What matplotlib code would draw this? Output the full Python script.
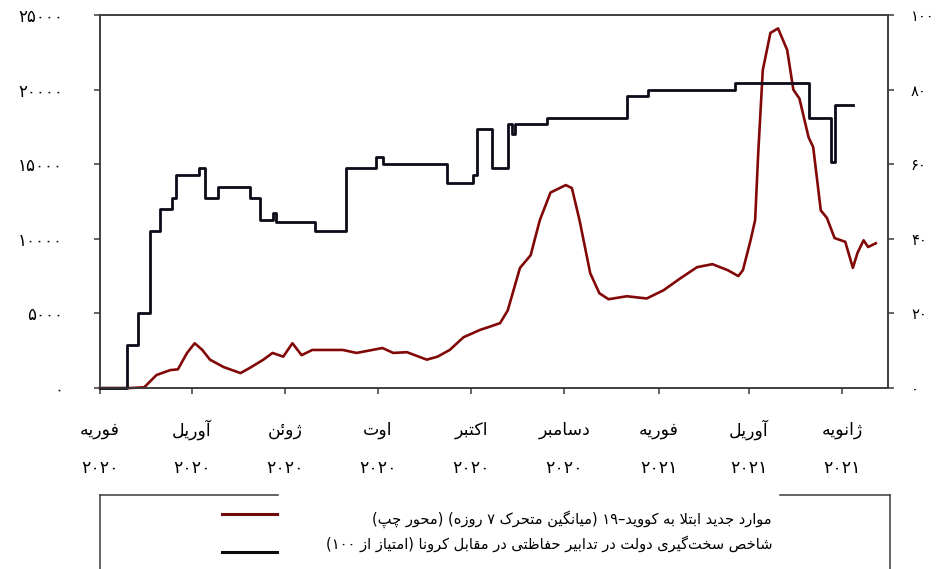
import re
import pandas as pd
import matplotlib.pyplot as plt
from matplotlib.lines import Line2D

# --- data ---
start = pd.Timestamp('2020-02-01')

# new covid-19 cases, 7-day moving average (left axis)
cases_days = [0, 20, 29, 37, 46, 51, 57, 62, 67, 72, 81, 92, 98, 107, 113, 120, 126, 132, 139, 159,
              168, 185, 192, 201, 214, 221, 229, 238, 249, 255, 262, 267, 275, 282, 288, 295, 305, 309,
              314, 321, 327, 333, 345, 358, 369, 380, 391, 401, 411, 418, 421, 426, 429, 431, 434, 439,
              444, 450, 454, 458, 464, 467, 472, 476, 481, 488, 493, 496, 500, 503, 508]
cases = [0, 0, 50, 870, 1200, 1250, 2350, 3000, 2550, 1900, 1400, 1000, 1340, 1900, 2350, 2100, 3000,
         2200, 2550, 2550, 2350, 2680, 2350, 2400, 1900, 2100, 2550, 3400, 3900, 4100, 4350, 5200, 8050,
         8900, 11250, 13100, 13600, 13400, 11250, 7700, 6350, 5950, 6150, 6000, 6550, 7350, 8100, 8300,
         7900, 7500, 7900, 9900, 11250, 15700, 21300, 23800, 24100, 22650, 20000, 19400, 16800, 16150,
         11900, 11400, 10050, 9800, 8050, 9050, 9900, 9450, 9700]

# government stringency index (right axis), value changes
si_days = [0, 18, 25, 33, 39, 47, 50, 65, 69, 77, 98, 105, 113, 115, 141, 161, 181, 185, 227, 244,
           247, 257, 267, 270, 272, 293, 345, 359, 416, 464, 479, 481, 493]
si = [0, 11.5, 20, 42, 48, 51, 57, 59, 51, 54, 51, 45, 47, 44.5, 42, 59, 62, 60, 55, 57, 69.4, 59,
      70.8, 68, 70.8, 72.4, 78.3, 80, 81.8, 72.4, 60.6, 76, 76]

tick_dates = ['2020-02-01', '2020-04-01', '2020-06-01', '2020-08-01', '2020-10-01',
              '2020-12-01', '2021-02-01', '2021-04-01', '2021-06-01']
months = ['فوریه', 'آوریل', 'ژوئن', 'اوت', 'اکتبر', 'دسامبر', 'فوریه', 'آوریل', 'ژانویه']
years = ['۲۰۲۰'] * 6 + ['۲۰۲۱'] * 3

legend_cases = 'موارد جدید ابتلا به کووید–۱۹ (میانگین متحرک ۷ روزه) (محور چپ)'
legend_si = 'شاخص سخت\u200cگیری دولت در تدابیر حفاظتی در مقابل کرونا (امتیاز از ۱۰۰)'

# --- minimal persian shaping (matplotlib has no complex text layout) ---
FORMS = {
    'آ': ('\uFE81', '\uFE82'), 'ا': ('\uFE8D', '\uFE8E'),
    'ب': ('\uFE8F', '\uFE90', '\uFE91', '\uFE92'), 'پ': ('\uFB56', '\uFB57', '\uFB58', '\uFB59'),
    'ت': ('\uFE95', '\uFE96', '\uFE97', '\uFE98'), 'ث': ('\uFE99', '\uFE9A', '\uFE9B', '\uFE9C'),
    'ج': ('\uFE9D', '\uFE9E', '\uFE9F', '\uFEA0'), 'چ': ('\uFB7A', '\uFB7B', '\uFB7C', '\uFB7D'),
    'ح': ('\uFEA1', '\uFEA2', '\uFEA3', '\uFEA4'), 'خ': ('\uFEA5', '\uFEA6', '\uFEA7', '\uFEA8'),
    'د': ('\uFEA9', '\uFEAA'), 'ذ': ('\uFEAB', '\uFEAC'), 'ر': ('\uFEAD', '\uFEAE'),
    'ز': ('\uFEAF', '\uFEB0'), 'ژ': ('\uFB8A', '\uFB8B'),
    'س': ('\uFEB1', '\uFEB2', '\uFEB3', '\uFEB4'), 'ش': ('\uFEB5', '\uFEB6', '\uFEB7', '\uFEB8'),
    'ص': ('\uFEB9', '\uFEBA', '\uFEBB', '\uFEBC'), 'ط': ('\uFEC1', '\uFEC2', '\uFEC3', '\uFEC4'),
    'ظ': ('\uFEC5', '\uFEC6', '\uFEC7', '\uFEC8'), 'ع': ('\uFEC9', '\uFECA', '\uFECB', '\uFECC'),
    'ف': ('\uFED1', '\uFED2', '\uFED3', '\uFED4'), 'ق': ('\uFED5', '\uFED6', '\uFED7', '\uFED8'),
    'ک': ('\uFB8E', '\uFB8F', '\uFB90', '\uFB91'), 'گ': ('\uFB92', '\uFB93', '\uFB94', '\uFB95'),
    'ل': ('\uFEDD', '\uFEDE', '\uFEDF', '\uFEE0'), 'م': ('\uFEE1', '\uFEE2', '\uFEE3', '\uFEE4'),
    'ن': ('\uFEE5', '\uFEE6', '\uFEE7', '\uFEE8'), 'ه': ('\uFEE9', '\uFEEA', '\uFEEB', '\uFEEC'),
    'و': ('\uFEED', '\uFEEE'), 'ی': ('\uFBFC', '\uFBFD', '\uFBFE', '\uFBFF'),
    'ئ': ('\uFE89', '\uFE8A', '\uFE8B', '\uFE8C'),
}
LAM_ALEF = {'ا': ('\uFEFB', '\uFEFC'), 'آ': ('\uFEF5', '\uFEF6')}
DIGITS = '0123456789۰۱۲۳۴۵۶۷۸۹'
MIRROR = {'(': ')', ')': '('}


def shape(s):
    out = []
    i = 0
    while i < len(s):
        c = s[i]
        if c not in FORMS:
            out.append(c)
            i += 1
            continue
        prev = s[i - 1] if i > 0 else None
        joins_prev = prev in FORMS and len(FORMS[prev]) == 4
        if c == 'ل' and i + 1 < len(s) and s[i + 1] in LAM_ALEF:
            lig = LAM_ALEF[s[i + 1]]
            out.append(lig[1] if joins_prev else lig[0])
            i += 2
            continue
        nxt = s[i + 1] if i + 1 < len(s) else None
        f = FORMS[c]
        joins_next = len(f) == 4 and nxt in FORMS
        if joins_prev and joins_next:
            out.append(f[3])
        elif joins_prev:
            out.append(f[1])
        elif joins_next:
            out.append(f[2])
        else:
            out.append(f[0])
        i += 1
    return ''.join(out).replace('\u200c', '')


def rtl(s):
    s = shape(s)
    runs = re.findall('[' + DIGITS + ']+|[^' + DIGITS + ']+', s)
    vis = []
    for r in reversed(runs):
        if r[0] in DIGITS:
            vis.append(r)
        else:
            vis.append(''.join(MIRROR.get(ch, ch) for ch in reversed(r)))
    return ''.join(vis)


def fa_num(n):
    return str(n).translate(str.maketrans('0123456789', '۰۱۲۳۴۵۶۷۸۹'))


# --- plot ---
plt.rcParams['font.family'] = ['DejaVu Sans']
W, H = 949, 569
fig = plt.figure(figsize=(W / 100, H / 100), dpi=100)
ax = fig.add_axes([100 / W, 1 - 388 / H, 788 / W, 373 / H])
ax2 = ax.twinx()

dates_cases = start + pd.to_timedelta(cases_days, unit='D')
dates_si = start + pd.to_timedelta(si_days, unit='D')

ax.plot(dates_cases, cases, color='#820808', lw=1.9, clip_on=False)
ax2.plot(dates_si, si, color='#0B0B1A', lw=2.0, drawstyle='steps-post', clip_on=False)

ax.set_xlim(pd.Timestamp('2020-02-01'), pd.Timestamp('2021-07-01'))
ax.set_ylim(0, 25000)
ax2.set_ylim(0, 100)

spine_col = '#3a3a3a'
for a in (ax, ax2):
    for sp in a.spines.values():
        sp.set_color(spine_col)
        sp.set_linewidth(1.1)

yt = list(range(0, 25001, 5000))
ax.set_yticks(yt)
ax.set_yticklabels([fa_num(v) for v in yt], fontsize=12)
ax.tick_params(axis='y', direction='out', length=4.5, width=1.1, color=spine_col, pad=22)

yt2 = list(range(0, 101, 20))
ax2.set_yticks(yt2)
ax2.set_yticklabels([fa_num(v) for v in yt2], fontsize=10.5)
ax2.tick_params(axis='y', direction='out', length=4.5, width=1.1, color=spine_col, pad=12)

ax.set_xticks(pd.to_datetime(tick_dates))
ax.set_xticklabels([])
ax.tick_params(axis='x', direction='out', length=4, width=1.1, color=spine_col)

trans = ax.get_xaxis_transform()
for d, m, y in zip(pd.to_datetime(tick_dates), months, years):
    ax.text(d, (388 - 430) / 373, rtl(m), transform=trans, ha='center', va='center', fontsize=12.5)
    ax.text(d, (388 - 468) / 373, y, transform=trans, ha='center', va='center', fontsize=12.5)

# legend box (drawn by hand, the top border is broken behind the text)
frame_kw = dict(color=spine_col, lw=1.1, transform=fig.transFigure)
fig.add_artist(Line2D([100 / W, 100 / W], [0, 1 - 495 / H], **frame_kw))
fig.add_artist(Line2D([890 / W, 890 / W], [0, 1 - 495 / H], **frame_kw))
fig.add_artist(Line2D([100 / W, 278 / W], [1 - 495 / H, 1 - 495 / H], **frame_kw))
fig.add_artist(Line2D([780 / W, 890 / W], [1 - 495 / H, 1 - 495 / H], **frame_kw))

fig.add_artist(Line2D([222 / W, 277 / W], [1 - 514 / H, 1 - 514 / H], color='#6E0A0A', lw=2.2,
                      transform=fig.transFigure))
fig.add_artist(Line2D([222 / W, 277 / W], [1 - 552 / H, 1 - 552 / H], color='#0B0B0B', lw=2.2,
                      transform=fig.transFigure))
fig.text(772 / W, 1 - 519 / H, rtl(legend_cases), ha='right', va='center', fontsize=10.5)
fig.text(772 / W, 1 - 544 / H, rtl(legend_si), ha='right', va='center', fontsize=10.5)

fig.savefig('out.png', dpi=100)
